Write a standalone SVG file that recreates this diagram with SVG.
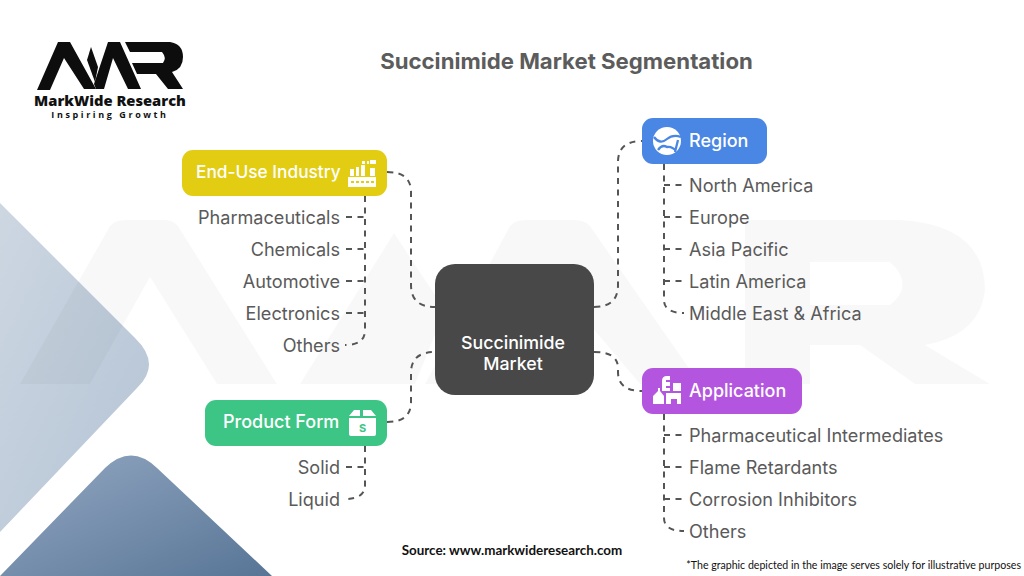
<svg xmlns="http://www.w3.org/2000/svg" width="1024" height="576" viewBox="0 0 1024 576">
<defs>
<linearGradient id="g1" x1="0" y1="0" x2="1" y2="1"><stop offset="0" stop-color="#cdd7e2"/><stop offset="1" stop-color="#b4c3d4"/></linearGradient>
<linearGradient id="g2" x1="0" y1="0" x2="1" y2="1"><stop offset="0" stop-color="#93a8c2"/><stop offset="1" stop-color="#587596"/></linearGradient>
</defs>
<style>
text{font-family:Inter,"Liberation Sans",sans-serif}
.l{font-size:18.1px;fill:#5a5a5a}
.e{text-anchor:end}
.h{font-size:18px;font-weight:500;fill:#fff}
.c{fill:none;stroke:#555;stroke-width:2;stroke-dasharray:6 5.5}
.w{fill:#000;fill-opacity:.028}
.m{font-family:Lato,"Open Sans",sans-serif}
</style>
<rect width="1024" height="576" fill="#fff"/>
<g id="background">
<path d="M0 203L135 338Q162 364 137 388L0 532Z" fill="url(#g1)"/>
<path d="M0 576L105 468Q131 443 157 468L272 576Z" fill="url(#g2)"/>
</g>
<g id="watermark">
<path class="w" d="M20 384L110 226Q115 220 125 220H165Q173 220 178 226L277 384H217L150 277L90 384Z"/>
<path class="w" d="M300 384L394 233L445 310L415 384Z"/>
<path class="w" d="M425 384L510 226Q515 220 525 220H575Q585 220 590 226L700 384H640L552 280L490 384Z"/>
<path class="w" fill-rule="evenodd" d="M745 384V220H900Q985 225 985 290Q980 335 925 345L990 384H915L860 345H810V384ZM810 262V305H890Q915 285 890 262Z"/>
</g>
<g id="logo">
<path fill="#0d0d0d" d="M37 90L58 42H70L96 89H84L64 58L50 90Z"/>
<path fill="#0d0d0d" d="M91 47L98 67L95 82L87 60Z"/>
<path fill="#0d0d0d" d="M94 84L108 42H120L141 89H128L113 58L104 89H96Z"/>
<path fill="#0d0d0d" d="M125 42H170Q183 44 183 57Q183 69 172 72L183 89H168L156 74H137L132 63H163Q167 58 162 52H130Z"/>
<text x="110" y="105.500" text-anchor="middle" font-size="14.7" font-weight="800" fill="#111" style="font-family:'Open Sans',sans-serif">MarkWide Research</text>
<text x="110" y="118" text-anchor="middle" font-size="9" font-weight="700" fill="#111" letter-spacing="2.600" style="font-family:'Open Sans',sans-serif">Inspiring Growth</text>
</g>
<text id="title" x="566.5" y="69" text-anchor="middle" font-size="22.2" font-weight="700" fill="#5c5c5c">Succinimide Market Segmentation</text>
<g id="connectors">
<path class="c" d="M387 172Q411 172 411 192V285Q411 307 435 307"/>
<path class="c" d="M387 422Q411 422 411 402V373Q411 352 435 352"/>
<path class="c" d="M594 307Q618 307 618 285V162Q618 141 642 141"/>
<path class="c" d="M594 352Q618 352 618 368V372Q618 391 642 391"/>
<path class="c" d="M365 196V330Q365 345 345 345"/>
<path class="c" d="M346 217H365M346 249H365M346 281H365M346 313H365"/>
<path class="c" d="M365 446V485Q365 499 345 499"/>
<path class="c" d="M346 467H365"/>
<path class="c" d="M664 164V300Q664 313 684 313"/>
<path class="c" d="M664 185H683M664 217H683M664 249H683M664 281H683"/>
<path class="c" d="M664 414V518Q664 531 684 531"/>
<path class="c" d="M664 435H683M664 467H683M664 499H683"/>
</g>
<g id="center"><rect x="435" y="264" width="159" height="131" rx="20" fill="#484848"/>
<text x="513" y="349" text-anchor="middle" font-size="17.8" font-weight="500" fill="#fff">Succinimide</text>
<text x="513" y="370" text-anchor="middle" font-size="17.8" font-weight="500" fill="#fff">Market</text></g>
<g id="end-use">
<rect x="182" y="150" width="205" height="46" rx="11" fill="#e2cd12"/>
<text class="h" x="196" y="178" style="font-size:17.3px">End-Use Industry</text>
<path fill="#fff" fill-rule="evenodd" d="M348 177H376V187H348ZM351 181V183H354V181ZM356 181V183H359V181ZM361 181V183H364V181ZM366 181V183H369V181ZM371 181V183H374V181Z"/>
<path fill="#fff" d="M350 169H354V176H350ZM356 167H359V176H356ZM361 165H365V176H361ZM370 168H375V176H370ZM362 161H365V164H362ZM367 161H369V164H367ZM370 160H376V164H370Z"/>
<text class="l e" x="340" y="223.500">Pharmaceuticals</text>
<text class="l e" x="340" y="255.500">Chemicals</text>
<text class="l e" x="340" y="287.500">Automotive</text>
<text class="l e" x="340" y="319.500">Electronics</text>
<text class="l e" x="340" y="351.500">Others</text>
</g>
<g id="product-form">
<rect x="205" y="400" width="182" height="46" rx="11" fill="#3dc585"/>
<text class="h" x="223" y="428">Product Form</text>
<path fill="#fff" d="M349 418H376V434Q376 436 374 436H351Q349 436 349 434ZM349 416L354 410H360V416ZM363 410H371L376 416H363Z"/>
<text x="362.500" y="432" text-anchor="middle" font-size="11" font-weight="700" fill="#3dc585">S</text>
<text class="l e" x="340" y="473.500">Solid</text>
<text class="l e" x="340" y="505.500">Liquid</text>
</g>
<g id="region">
<rect x="642" y="118" width="125" height="46" rx="11" fill="#4a86e4"/>
<circle cx="667" cy="141" r="14" fill="#fff"/>
<path d="M654 137Q660 145 667 139Q673 134 681 137M658 150Q662 144 667 147Q672 146 676 151M678 140L675 152" fill="none" stroke="#4a86e4" stroke-width="2.300"/>
<text class="h" x="689" y="147">Region</text>
<text class="l" x="689" y="191.500">North America</text>
<text class="l" x="689" y="223.500">Europe</text>
<text class="l" x="689" y="255.500">Asia Pacific</text>
<text class="l" x="689" y="287.500">Latin America</text>
<text class="l" x="689" y="319.500">Middle East &amp; Africa</text>
</g>
<g id="application">
<rect x="642" y="368" width="160" height="46" rx="11" fill="#b455e0"/>
<path fill="#fff" d="M653 404V396L658 391V388H660V391L664 396V404ZM662 381Q662 376 667 376H670V380H666V382H670V386H666V388H670V391H662ZM673 383H681V391H673ZM666 393H681V404H677V399H671V404H666Z"/>
<text class="h" x="689" y="397">Application</text>
<text class="l" x="689" y="441.500">Pharmaceutical Intermediates</text>
<text class="l" x="689" y="473.500">Flame Retardants</text>
<text class="l" x="689" y="505.500">Corrosion Inhibitors</text>
<text class="l" x="689" y="537.500">Others</text>
</g>
<text id="source" class="m" x="512" y="555" text-anchor="middle" font-size="13.400" font-weight="700" fill="#111">Source: www.markwideresearch.com</text>
<text id="note" class="m" x="1021" y="569" text-anchor="end" font-size="10.600" fill="#111">*The graphic depicted in the image serves solely for illustrative purposes</text>
</svg>
